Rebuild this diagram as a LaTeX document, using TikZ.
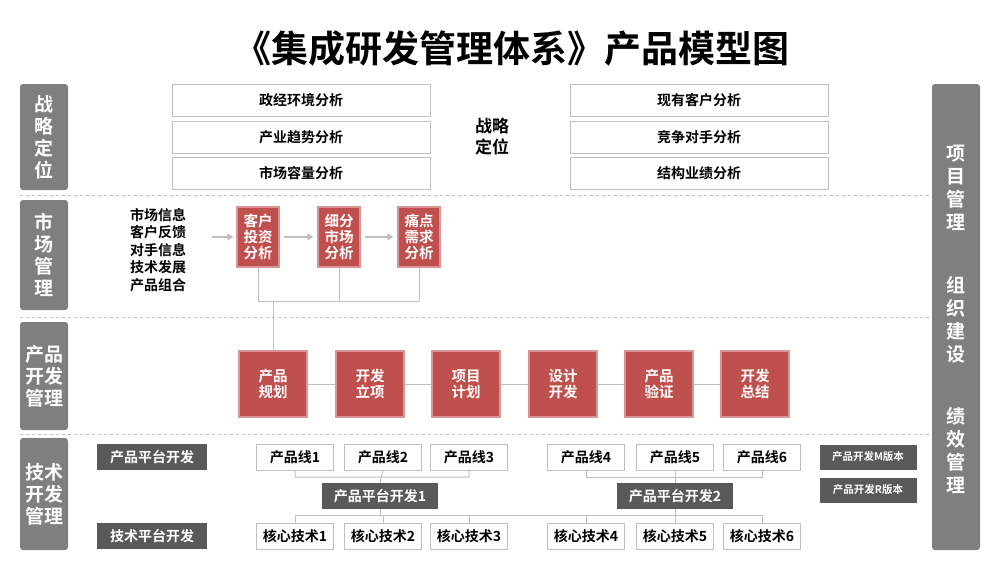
\documentclass[tikz,border=0pt]{standalone}
\usepackage{fontspec}
\setmainfont{Noto Sans CJK SC}[BoldFont={Noto Sans CJK SC Bold}]
\usetikzlibrary{arrows.meta}
\definecolor{bar}{HTML}{7F7F7F}
\definecolor{dk}{HTML}{595959}
\definecolor{rd}{HTML}{C0504D}
\definecolor{ln}{HTML}{BFBFBF}
\begin{document}
\begin{tikzpicture}[x=1pt,y=-1pt,font=\bfseries,
 sidebar/.style={fill=bar,rounded corners=3pt,text=white,font=\bfseries\fontsize{19}{22}\selectfont,align=center},
 wbox/.style={draw=ln,fill=white,minimum height=32pt,text=black,font=\bfseries\fontsize{14}{16}\selectfont},
 rbox/.style={fill=rd,text=white,align=center,font=\bfseries\fontsize{14.5}{16}\selectfont,draw=rd!60!white,line width=1.5pt,inner sep=1pt},
 sbox/.style={draw=ln,fill=white,minimum width=77pt,minimum height=26pt,font=\bfseries\fontsize{14}{16}\selectfont,inner sep=1pt},
 dbox/.style={fill=dk,text=white,minimum height=26pt,font=\bfseries\fontsize{14}{16}\selectfont,inner sep=1pt},
 con/.style={draw=ln,line width=1pt},
 sepline/.style={draw=ln,dashed,line width=0.8pt}]
\useasboundingbox (0,0) rectangle (1000,562);
\node (title) at (512,48) {\fontsize{37}{40}\selectfont《集成研发管理体系》产品模型图};
% dashed separators
\draw[sepline] (20,195)--(980,195);
\draw[sepline] (20,317)--(980,317);
\draw[sepline] (20,434)--(980,434);
% side bars
\node[sidebar,minimum width=48pt,minimum height=106pt] (s1) at (44,137) {战\\略\\定\\位};
\node[sidebar,minimum width=48pt,minimum height=110pt] (s2) at (44,255) {市\\场\\管\\理};
\node[sidebar,minimum width=48pt,minimum height=108pt] (s3) at (44,376) {产品\\开发\\管理};
\node[sidebar,minimum width=48pt,minimum height=112pt] (s4) at (44,494) {技术\\开发\\管理};
\node[sidebar,minimum width=48pt,minimum height=466pt] (rb) at (956,317) {};
\node[text=white,font=\bfseries\fontsize{19}{23}\selectfont,align=center] (rb1) at (956,188) {项\\目\\管\\理};
\node[text=white,font=\bfseries\fontsize{19}{23}\selectfont,align=center] (rb2) at (956,320) {组\\织\\建\\设};
\node[text=white,font=\bfseries\fontsize{19}{23}\selectfont,align=center] (rb3) at (956,450) {绩\\效\\管\\理};
% strategy
\node[wbox,minimum width=258pt] (a1) at (301,100) {政经环境分析};
\node[wbox,minimum width=258pt] (a2) at (301,137) {产业趋势分析};
\node[wbox,minimum width=258pt] (a3) at (301,173) {市场容量分析};
\node[wbox,minimum width=258pt] (b1) at (699,100) {现有客户分析};
\node[wbox,minimum width=258pt] (b2) at (699,137) {竞争对手分析};
\node[wbox,minimum width=258pt] (b3) at (699,173) {结构业绩分析};
\node[align=center,font=\bfseries\fontsize{17}{21}\selectfont] (zl) at (492,137) {战略\\定位};
% market
\node[align=left,font=\bfseries\fontsize{14}{17.5}\selectfont] (mi) at (158,250) {市场信息\\客户反馈\\对手信息\\技术发展\\产品组合};
\coordinate (arr0) at (212,237);
\node[rbox,minimum width=42pt,minimum height=60pt] (m1) at (258,237) {客户\\投资\\分析};
\node[rbox,minimum width=42pt,minimum height=60pt] (m2) at (339,237) {细分\\市场\\分析};
\node[rbox,minimum width=42pt,minimum height=60pt] (m3) at (419,237) {痛点\\需求\\分析};
\draw[-{Triangle[width=7pt,length=6pt]},draw=ln,line width=1.5pt] (arr0)--([xshift=-3pt]m1.west);
\draw[-{Triangle[width=7pt,length=6pt]},draw=ln,line width=1.5pt] ([xshift=4pt]m1.east)--([xshift=-4pt]m2.west);
\draw[-{Triangle[width=7pt,length=6pt]},draw=ln,line width=1.5pt] ([xshift=4pt]m2.east)--([xshift=-4pt]m3.west);
\coordinate (j1) at (258,301);\coordinate (j3) at (419,301);
\draw[con] (m1.south)--(j1)--(j3);
\draw[con] (m3.south)--(j3);
\draw[con] (m2.south)--(339,301);
% product dev
\foreach \i/\x/\t in {1/273/产品\\规划,2/370/开发\\立项,3/466/项目\\计划,4/563/设计\\开发,5/659/产品\\验证,6/755/开发\\总结}
 \node[rbox,minimum width=68pt,minimum height=66pt] (p\i) at (\x,384) {\t};
\draw[con] (273,301)--(p1.north);
\draw[con] (p1)--(p2) (p2)--(p3) (p3)--(p4) (p4)--(p5) (p5)--(p6);
% tech
\node[dbox,minimum width=110pt] (d1) at (152,457) {产品平台开发};
\node[dbox,minimum width=110pt] (d2) at (152,536) {技术平台开发};
\foreach \i/\x in {1/295,2/383,3/469,4/586,5/675,6/762}{
 \node[sbox] (l\i) at (\x,457) {产品线\i};
 \node[sbox] (c\i) at (\x,536) {核心技术\i};}
\node[dbox,minimum width=116pt] (pp1) at (380,496) {产品平台开发1};
\node[dbox,minimum width=116pt] (pp2) at (675,496) {产品平台开发2};
\draw[con] (l1.south)--++(0,7)-|(l3.south) (l2.south)--(pp1.north);
\draw[con] (l4.south)--++(0,7)-|(l6.south) (l5.south)--(pp2.north);
\draw[con] (c1.north)--++(0,-7)-|(c6.north);
\foreach \i in {2,3,4,5} \draw[con] (c\i.north)--++(0,-7);
\draw[con] (pp1.south)--++(0,7);
\draw[con] (pp2.south)--++(0,7);
\node[dbox,minimum width=97pt,minimum height=25pt,font=\bfseries\fontsize{10.5}{12}\selectfont] (v1) at (868,457) {产品开发M版本};
\node[dbox,minimum width=97pt,minimum height=25pt,font=\bfseries\fontsize{10.5}{12}\selectfont] (v2) at (868,490) {产品开发R版本};
\end{tikzpicture}
\end{document}
